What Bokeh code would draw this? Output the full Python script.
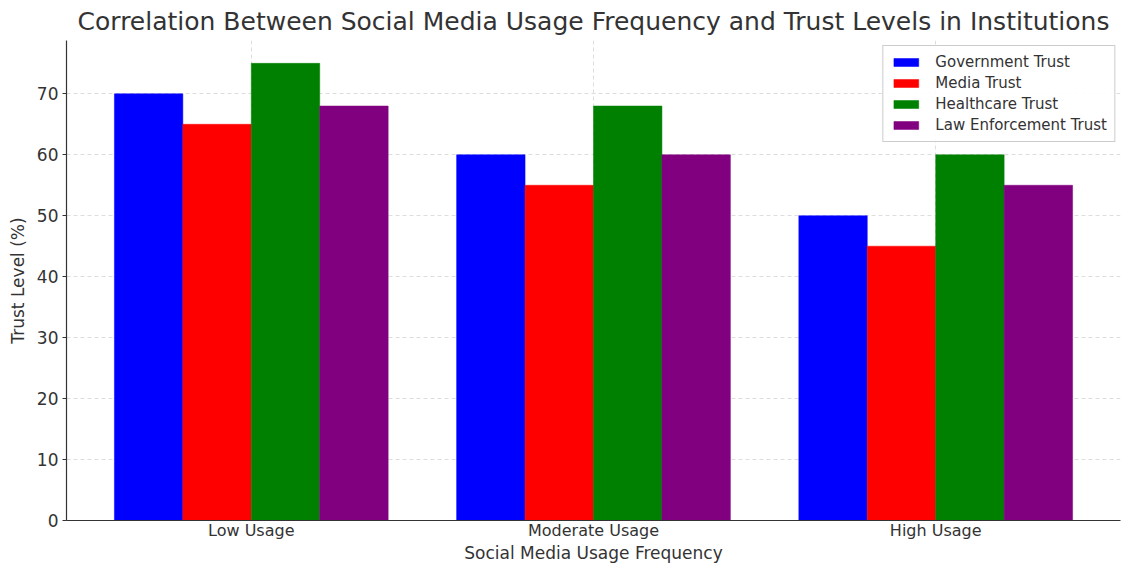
from bokeh.plotting import figure
from bokeh.models import FactorRange, Legend, LegendItem, FixedTicker
from bokeh.transform import dodge
from bokeh.embed import file_html
from bokeh.resources import INLINE

categories = ["Low Usage", "Moderate Usage", "High Usage"]
series_names = ["Government Trust", "Media Trust", "Healthcare Trust", "Law Enforcement Trust"]
government = [70, 60, 50]
media = [65, 55, 45]
healthcare = [75, 68, 60]
law = [68, 60, 55]
colors = ["blue", "red", "green", "purple"]
y_ticks = [0, 10, 20, 30, 40, 50, 60, 70]

FONT = "DejaVu Sans"
TXT = "#333333"

p = figure(width=1122, height=565, output_backend="svg", toolbar_location=None,
           x_range=FactorRange(factors=categories, range_padding=0.04, range_padding_units="absolute"),
           y_range=(0, 78.75),
           title="Correlation Between Social Media Usage Frequency and Trust Levels in Institutions")
p.min_border_left = 66
p.min_border_right = 2
p.min_border_top = 0
p.min_border_bottom = 0

p.title.align = "center"
p.title.text_font = FONT
p.title.text_font_size = "25px"
p.title.text_font_style = "normal"
p.title.text_color = TXT
p.title.standoff = 9

data = dict(cat=categories, g=government, m=media, h=healthcare, l=law)
keys = ["g", "m", "h", "l"]
offsets = [-0.3, -0.1, 0.1, 0.3]
items = []
for k, off, c, name in zip(keys, offsets, colors, series_names):
    r = p.vbar(x=dodge("cat", off, range=p.x_range), top=k, width=0.2, source=data,
               fill_color=c, line_color=c, line_width=0.5)
    items.append(LegendItem(label=name, renderers=[r]))

legend = Legend(items=items, location="top_right")
legend.label_text_font = FONT
legend.label_text_font_size = "15px"
legend.label_text_color = TXT
legend.glyph_width = 31
legend.glyph_height = 10
legend.label_height = 16
legend.label_standoff = 14
legend.spacing = 3
legend.padding = 7
legend.margin = 5
legend.border_line_color = "#cccccc"
legend.border_line_alpha = 1
legend.background_fill_alpha = 0.9
p.add_layout(legend)

p.outline_line_color = None
for ax in (p.xaxis[0], p.yaxis[0]):
    ax.axis_line_color = "#333333"
    ax.axis_line_width = 1.2
    ax.major_label_text_font = FONT
    ax.major_label_text_font_size = "17px"
    ax.major_label_text_color = TXT
    ax.axis_label_text_font = FONT
    ax.axis_label_text_font_style = "normal"
    ax.axis_label_text_color = TXT
    ax.minor_tick_line_color = None
    ax.major_tick_line_color = "#333333"
    ax.major_tick_out = 4
    ax.major_tick_in = 0

p.xaxis.axis_label = "Social Media Usage Frequency"
p.xaxis.axis_label_text_font_size = "17px"
p.xaxis.major_label_text_font_size = "16px"
p.xaxis.axis_label_standoff = 0
p.xaxis.major_label_standoff = 0
p.xaxis.major_tick_line_color = None
p.xaxis.major_tick_out = 0
p.yaxis.axis_label = "Trust Level (%)"
p.yaxis.axis_label_text_font_size = "17px"
p.yaxis.axis_label_standoff = 6
p.yaxis.major_label_standoff = 4
p.yaxis.ticker = FixedTicker(ticks=y_ticks)

p.xgrid.grid_line_color = "#dddddd"
p.xgrid.grid_line_dash = "4 3"
p.ygrid.grid_line_color = "#dddddd"
p.ygrid.grid_line_dash = "4 3"

open("out.html", "w").write(file_html(p, INLINE))
